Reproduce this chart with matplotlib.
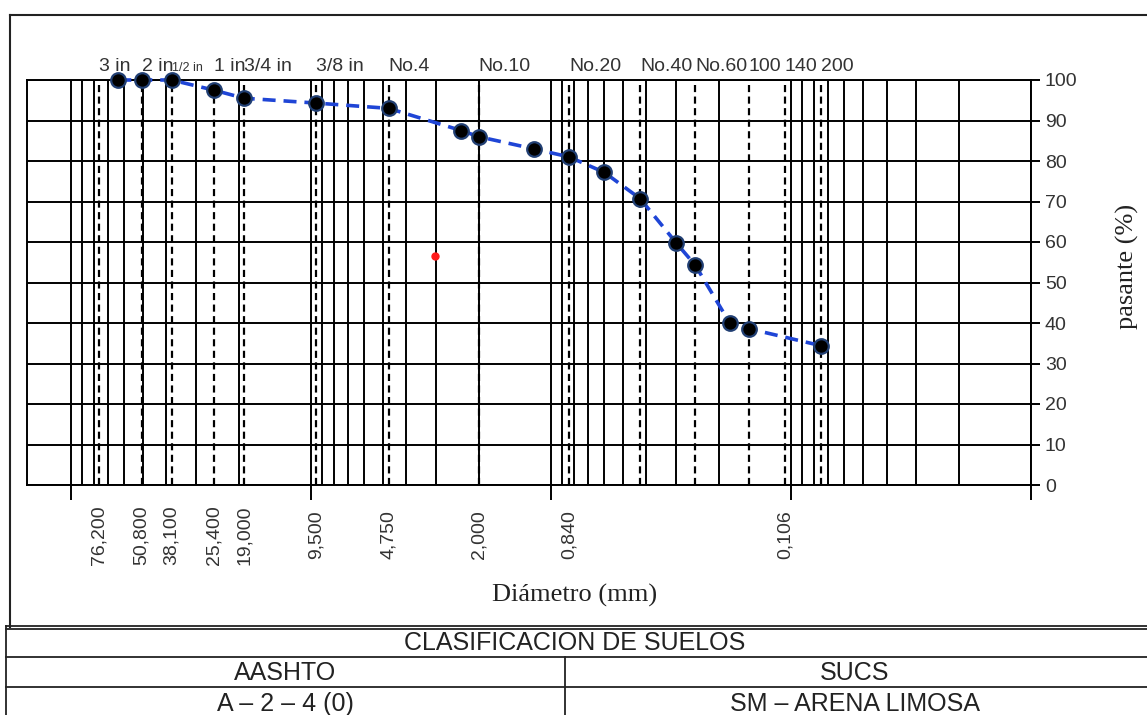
"""
Curva granulometrica - analisis por tamizado
"""

import numpy as np
import matplotlib
matplotlib.use('Agg')
import matplotlib.pyplot as plt
from matplotlib.ticker import LogLocator, NullFormatter, FixedLocator
from matplotlib.lines import Line2D

SANS = ['Liberation Sans', 'DejaVu Sans']
SERIF = ['Liberation Serif', 'DejaVu Serif']

# tamices usados en el ensayo (mm) y porcentaje que pasa
sieve_mm = [63.5, 50.8, 38.1, 25.4, 19.0, 9.5, 4.75, 2.36, 2.0, 1.18,
            0.84, 0.6, 0.425, 0.3, 0.25, 0.18, 0.15, 0.075]
passing = [100, 100, 100, 97.5, 95.5, 94.3, 93.0, 87.5, 86.0, 83.0,
           81.0, 77.2, 70.7, 59.7, 54.2, 40.0, 38.6, 34.4]

# tamices de referencia (lineas verticales discontinuas)
ref_mm = [76.2, 50.8, 38.1, 25.4, 19.0, 9.5, 4.75, 2.0, 0.84, 0.425,
          0.25, 0.15, 0.106, 0.075]
ref_names = ['3 in', '2 in', '1/2 in', '1 in', '3/4 in', '3/8 in', 'No.4',
             'No.10', 'No.20', 'No.40', 'No.60', '100', '140', '200']

# aberturas rotuladas bajo el eje
bottom_mm = [76.2, 50.8, 38.1, 25.4, 19.0, 9.5, 4.75, 2.0, 0.84, 0.106]
bottom_labels = ['76,200', '50,800', '38,100', '25,400', '19,000', '9,500',
                 '4,750', '2,000', '0,840', '0,106']

# punto suelto
extra_mm = [3.04]
extra_pct = [56.5]

W, H = 1147, 715


def fx(px):
    return px / W


def fy(py):
    return 1 - py / H


fig = plt.figure(figsize=(W / 100, H / 100), dpi=100)
ax = fig.add_axes([fx(27), fy(485), fx(1031) - fx(27), fy(80) - fy(485)])

ax.set_xscale('log')
ax.set_xlim(152.5, 0.01)
ax.set_ylim(0, 100)

# rejilla
ax.xaxis.set_major_locator(LogLocator(base=10, numticks=10))
ax.xaxis.set_minor_locator(LogLocator(base=10, subs=np.arange(2, 10), numticks=20))
ax.xaxis.set_major_formatter(NullFormatter())
ax.xaxis.set_minor_formatter(NullFormatter())
ax.yaxis.set_major_locator(FixedLocator(np.arange(0, 101, 10)))
ax.grid(True, which='both', axis='x', color='black', linewidth=1.4)
ax.grid(True, which='major', axis='y', color='black', linewidth=1.4)
ax.set_axisbelow(True)

ax.tick_params(axis='x', which='major', direction='out', length=11, width=1.4,
               bottom=True, top=False)
ax.tick_params(axis='x', which='minor', length=0)
ax.tick_params(axis='y', which='major', direction='out', length=6.5, width=1.4,
               left=False, right=True, labelleft=False, labelright=True,
               labelsize=14, labelcolor='#333333', pad=3.5)
for lbl in ax.get_yticklabels():
    lbl.set_family(SANS)
for sp in ax.spines.values():
    sp.set_linewidth(1.4)
    sp.set_color('black')

# lineas de tamices de referencia
for d in ref_mm:
    ax.axvline(d, color='black', linewidth=1.6, linestyle=(0, (3.2, 2)), zorder=2)

# curva granulometrica
ax.plot(sieve_mm, passing, color='#1f45d6', linewidth=2.6,
        linestyle=(0, (3.6, 2.2)), marker='o', markersize=10.5,
        markerfacecolor='black', markeredgecolor='#213f73', markeredgewidth=1.6,
        zorder=4, clip_on=False)
ax.plot(extra_mm, extra_pct, 'o', color='#ff1a1a', markersize=5, zorder=5)

# nombres de tamices arriba
for d, name in zip(ref_mm, ref_names):
    size = 9 if name == '1/2 in' else 14
    ax.text(d, 1.022, name, transform=ax.get_xaxis_transform(), ha='left',
            va='baseline', fontsize=size, family=SANS, color='#333333',
            zorder=3)

# aberturas bajo el eje
for d, lab in zip(bottom_mm, bottom_labels):
    ax.text(d, -0.1235, lab, transform=ax.get_xaxis_transform(), rotation=90,
            ha='center', va='center', fontsize=14, family=SANS, color='#333333')

fig.text(fx(575), fy(595), 'Diámetro (mm)', ha='center', va='center',
         fontsize=19, family=SERIF, color='#222222')
fig.text(fx(1127), fy(266), 'pasante (%)', ha='center', va='center',
         rotation=90, fontsize=19, family=SERIF, color='#222222')

# marco del grafico
lw = 1.5
for (x0, y0, x1, y1) in [(10, 15, W + 5, 15), (10, 15, 10, 627)]:
    fig.add_artist(Line2D([fx(x0), fx(x1)], [fy(y0), fy(y1)], color='#222222',
                          linewidth=lw))

# tabla de clasificacion
for y in (626, 629, 657, 687):
    fig.add_artist(Line2D([fx(6), fx(W + 5)], [fy(y), fy(y)], color='#222222',
                          linewidth=1.3))
fig.add_artist(Line2D([fx(6), fx(6)], [fy(626), fy(H + 5)], color='#222222',
                      linewidth=1.3))
fig.add_artist(Line2D([fx(565), fx(565)], [fy(657), fy(H + 5)], color='#222222',
                      linewidth=1.3))

rows = [(575, 643, 'CLASIFICACION DE SUELOS'),
        (285, 673, 'AASHTO'), (855, 673, 'SUCS'),
        (285, 704, 'A – 2 – 4 (0)'), (855, 704, 'SM – ARENA LIMOSA')]
for x, y, txt in rows:
    fig.text(fx(x), fy(y), txt, ha='center', va='center',
             fontsize=18, family=SANS, color='#222222')

fig.savefig('out.png', dpi=100)
